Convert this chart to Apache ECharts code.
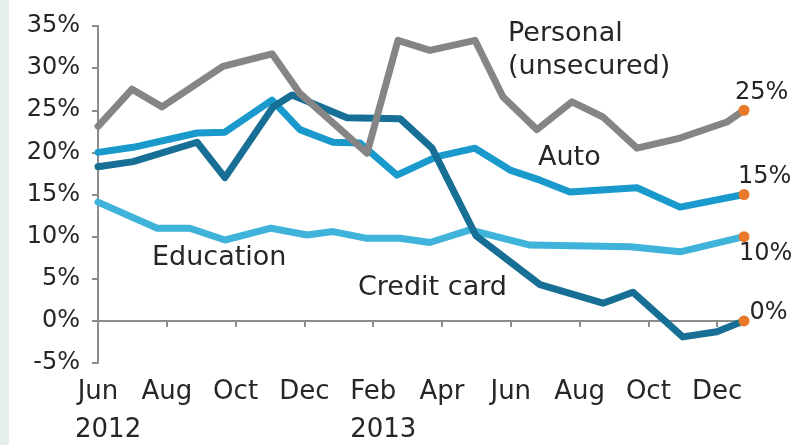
<!DOCTYPE html>
<html>
<head>
<meta charset="utf-8">
<script src="https://cdn.jsdelivr.net/npm/echarts@6/dist/echarts.min.js"></script>
<style>
  html, body { margin: 0; padding: 0; background: #ffffff; }
  #chart { width: 791px; height: 445px; }
</style>
</head>
<body>
<div id="chart"></div>
<script>
// Horizontal position is measured in months since June 2012.
const tickValues = [0, 2, 4, 6, 8, 10, 12, 14, 16, 18];
const tickMonths = ['Jun', 'Aug', 'Oct', 'Dec', 'Feb', 'Apr', 'Jun', 'Aug', 'Oct', 'Dec'];
const tickYears  = ['2012', '', '', '', '2013', '', '', '', '', ''];

// Annual growth (%) by loan type: [months since Jun 2012, percent]
const personal = [
  [0, 23.1], [0.99, 27.5], [1.86, 25.4], [3.63, 30.2], [5.06, 31.7], [5.87, 27.0],
  [7.82, 19.9], [8.72, 33.3], [9.65, 32.1], [10.96, 33.3], [11.77, 26.6], [12.76, 22.7],
  [13.78, 26.0], [14.68, 24.2], [15.67, 20.5], [16.92, 21.7], [18.28, 23.6], [18.78, 25]
];
const creditCard = [
  [0, 18.3], [1.02, 18.9], [2.88, 21.2], [3.69, 17.0], [5.09, 25.4], [5.64, 26.8],
  [7.24, 24.1], [8.78, 24.0], [9.71, 20.5], [10.99, 10.1], [12.85, 4.3], [14.68, 2.1],
  [15.55, 3.4], [17.0, -1.9], [17.99, -1.3], [18.78, 0]
];
const auto = [
  [0, 20.0], [1.02, 20.6], [2.88, 22.3], [3.69, 22.4], [5.06, 26.2], [5.87, 22.7],
  [6.83, 21.2], [7.62, 21.1], [8.69, 17.3], [9.85, 19.5], [10.96, 20.5], [11.98, 17.9],
  [12.85, 16.7], [13.72, 15.3], [15.67, 15.8], [16.92, 13.5], [18.78, 15]
];
const education = [
  [0, 14.1], [1.72, 11.0], [2.67, 11.0], [3.69, 9.6], [5.03, 11.0], [6.08, 10.2],
  [6.83, 10.6], [7.82, 9.8], [8.78, 9.8], [9.65, 9.3], [10.81, 10.8], [12.56, 9.0],
  [15.47, 8.8], [16.92, 8.2], [18.78, 10]
];

const FONT = 'DejaVu Sans';
const TEXT = '#262626';
const AXIS = '#8c8c8c';
const DOT = '#e8792b';

// Line with an orange dot and value label on its final point
function makeSeries(name, data, color, labelOpts) {
  const items = data.map((d, i) => {
    if (i < data.length - 1) return d;
    return {
      value: d,
      symbol: 'circle',
      symbolSize: 11,
      itemStyle: { color: DOT },
      label: Object.assign({
        show: true,
        formatter: p => p.value[1] + '%',
        fontFamily: FONT,
        fontSize: 24,
        color: TEXT
      }, labelOpts)
    };
  });
  return {
    name: name,
    type: 'line',
    data: items,
    symbol: 'none',
    showSymbol: true,
    lineStyle: { color: color, width: 7, join: 'round', cap: 'round' },
    itemStyle: { color: color },
    emphasis: { disabled: true },
    z: 2
  };
}

const chart = echarts.init(document.getElementById('chart'), null, { renderer: 'canvas' });

chart.setOption({
  animation: false,
  backgroundColor: '#ffffff',
  grid: { left: 98, right: 47, top: 26, bottom: 82, containLabel: false },
  xAxis: [
    {
      type: 'value',
      min: 0,
      max: 18.78,
      position: 'bottom',
      axisLine: { show: false, onZero: false },
      axisTick: { show: false },
      splitLine: { show: false },
      axisLabel: {
        customValues: tickValues,
        margin: 10,
        formatter: v => {
          const i = tickValues.indexOf(v);
          if (i < 0) return '';
          return tickYears[i] ? '{m|' + tickMonths[i] + '}\n{y|' + tickYears[i] + '}'
                              : '{m|' + tickMonths[i] + '}';
        },
        rich: {
          m: { fontFamily: FONT, fontSize: 26, color: TEXT, width: 46, align: 'center', lineHeight: 38 },
          y: { fontFamily: FONT, fontSize: 26, color: TEXT, width: 46, align: 'left', lineHeight: 38 }
        }
      }
    },
    {
      // zero line with small downward ticks
      type: 'value',
      min: 0,
      max: 18.78,
      position: 'top',
      axisLine: { show: true, onZero: true, lineStyle: { color: AXIS, width: 2 } },
      axisTick: { show: true, inside: true, length: 6, customValues: [2, 4, 6, 8, 10, 12, 14, 16, 18],
                  lineStyle: { color: AXIS, width: 2 } },
      axisLabel: { show: false },
      splitLine: { show: false }
    }
  ],
  yAxis: {
    type: 'value',
    min: -5,
    max: 35,
    interval: 5,
    axisLine: { show: true, onZero: false, lineStyle: { color: AXIS, width: 2 } },
    axisTick: { show: true, length: 6, lineStyle: { color: AXIS, width: 2 } },
    splitLine: { show: false },
    axisLabel: {
      margin: 18,
      formatter: '{value}%',
      fontFamily: FONT,
      fontSize: 24,
      color: TEXT
    }
  },
  series: [
    makeSeries('Education', education, '#3fb3da', { position: 'bottom', align: 'left', offset: [-5, -2], distance: 2 }),
    makeSeries('Auto', auto, '#1a99cc', { position: 'top', align: 'left', offset: [-6, 2], distance: 2 }),
    makeSeries('Credit card', creditCard, '#176f95', { position: 'right', offset: [-2, -8], distance: 2 }),
    makeSeries('Personal (unsecured)', personal, '#858585', { position: 'top', align: 'left', offset: [-9, 2], distance: 2 })
  ],
  graphic: [
    { type: 'rect', left: 0, top: 0, shape: { width: 9, height: 445 }, style: { fill: '#e5eeea' }, silent: true },
    { type: 'text', left: 508, top: 17, style: { text: 'Personal\n(unsecured)', font: '27px "DejaVu Sans"', fill: TEXT, lineHeight: 33 } },
    { type: 'text', left: 538, top: 144, style: { text: 'Auto', font: '27px "DejaVu Sans"', fill: TEXT } },
    { type: 'text', left: 152, top: 244, style: { text: 'Education', font: '27px "DejaVu Sans"', fill: TEXT } },
    { type: 'text', left: 358, top: 274, style: { text: 'Credit card', font: '27px "DejaVu Sans"', fill: TEXT } }
  ]
});
</script>
</body>
</html>
